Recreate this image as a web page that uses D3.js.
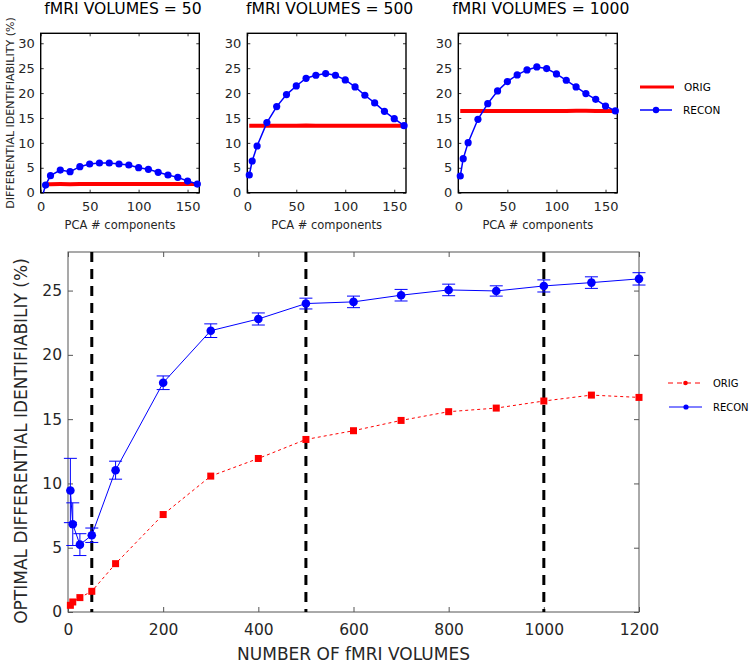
<!DOCTYPE html>
<html>
<head>
<meta charset="utf-8">
<script src="https://cdn.jsdelivr.net/npm/d3@7"></script>
<style>
  html, body { margin: 0; padding: 0; background: #fff; }
  svg { display: block; font-family: "DejaVu Sans", sans-serif; }
</style>
</head>
<body>
<svg id="chart" width="750" height="664"></svg>
<script>
// ---------- DATA ----------
const pcaComponents = [2, 5, 10, 20, 30, 40, 50, 60, 70, 80, 90, 100, 110, 120, 130, 140, 150, 160];
const panelTitles = ["fMRI VOLUMES = 50", "fMRI VOLUMES = 500", "fMRI VOLUMES = 1000"];
const recon50   = [-0.5, 1.54, 3.42, 4.55, 4.22, 5.22, 5.76, 5.96, 5.96, 5.76, 5.56, 5.02, 4.69, 4.09, 3.55, 3.08, 2.34, 1.74];
const orig50    = [null, 1.72, 1.72, 1.73, 1.72, 1.73, 1.74, 1.73, 1.74, 1.74, 1.73, 1.74, 1.74, 1.73, 1.74, 1.74, 1.74, 1.74];
const recon500  = [3.55, 6.36, 9.38, 14.07, 17.28, 19.69, 21.43, 22.97, 23.58, 23.91, 23.58, 22.64, 21.23, 19.56, 18.02, 16.34, 14.87, 13.46];
const orig500   = [13.45, 13.45, 13.45, 13.43, 13.42, 13.44, 13.46, 13.48, 13.45, 13.44, 13.45, 13.46, 13.45, 13.44, 13.45, 13.46, 13.46, 13.46];
const recon1000 = [3.35, 6.83, 10.05, 14.74, 17.88, 20.43, 22.3, 23.64, 24.65, 25.25, 24.92, 23.84, 22.57, 21.23, 19.89, 18.75, 17.41, 16.41];
const orig1000  = [16.38, 16.38, 16.39, 16.38, 16.38, 16.39, 16.40, 16.41, 16.40, 16.41, 16.42, 16.40, 16.42, 16.43, 16.43, 16.42, 16.41, 16.41];
const pcaXTicks = [0, 50, 100, 150];
const pcaYTicks = [0, 5, 10, 15, 20, 25, 30];

const volumes   = [5, 10, 25, 50, 100, 200, 300, 400, 500, 600, 700, 800, 900, 1000, 1100, 1200];
const reconOpt  = [9.45, 6.83, 5.24, 5.97, 11.03, 17.83, 21.88, 22.79, 23.99, 24.12, 24.64, 25.05, 24.97, 25.36, 25.62, 25.91];
const reconErr  = [2.5, 1.66, 0.85, 0.56, 0.7, 0.53, 0.53, 0.47, 0.42, 0.45, 0.45, 0.45, 0.4, 0.47, 0.45, 0.48];
const origOpt   = [0.52, 0.78, 1.12, 1.61, 3.76, 7.58, 10.57, 11.94, 13.42, 14.1, 14.9, 15.58, 15.86, 16.41, 16.87, 16.69];
const markedVolumes = [50, 500, 1000];
const volXTicks = [0, 200, 400, 600, 800, 1000, 1200];
const volYTicks = [0, 5, 10, 15, 20, 25];
const seriesNames = ["ORIG", "RECON"];

const svg = d3.select("#chart");
const RED = "#ff0000", BLUE = "#0000ff";

// ---------- TOP PANELS ----------
const panels = [
  { left: 40.7,  right: 199.3, recon: recon50,   orig: orig50 },
  { left: 247.3, right: 406.0, recon: recon500,  orig: orig500 },
  { left: 458.3, right: 617.3, recon: recon1000, orig: orig1000 }
];
const pTop = 33.3, pBottom = 192.7;
const py = d3.scaleLinear().domain([0, 32]).range([pBottom, pTop]);

panels.forEach((p, i) => {
  const px = d3.scaleLinear().domain([0, 162]).range([p.left, p.right]);
  const g = svg.append("g");
  const clipId = "clip" + i;
  svg.append("clipPath").attr("id", clipId).append("rect")
    .attr("x", p.left).attr("y", pTop).attr("width", p.right - p.left).attr("height", pBottom - pTop);

  const tickFmt = d3.format("d");
  const axB = g.append("g").attr("transform", `translate(0,${pBottom})`)
    .call(d3.axisBottom(px).tickValues(pcaXTicks).tickSize(-3).tickPadding(9.5).tickFormat(tickFmt));
  const axT = g.append("g").attr("transform", `translate(0,${pTop})`)
    .call(d3.axisTop(px).tickValues(pcaXTicks).tickSize(-3).tickFormat(""));
  const axL = g.append("g").attr("transform", `translate(${p.left},0)`)
    .call(d3.axisLeft(py).tickValues(pcaYTicks).tickSize(-3).tickPadding(6).tickFormat(tickFmt));
  const axR = g.append("g").attr("transform", `translate(${p.right},0)`)
    .call(d3.axisRight(py).tickValues(pcaYTicks).tickSize(-3).tickFormat(""));
  [axB, axT, axL, axR].forEach(a => {
    a.select(".domain").remove();
    a.selectAll(".tick line").attr("stroke", "#000").attr("stroke-width", 0.8);
    a.selectAll(".tick text").attr("fill", "#262626").style("font-size", "13px").style("font-family", "DejaVu Sans");
  });
  g.append("rect").attr("x", p.left).attr("y", pTop)
    .attr("width", p.right - p.left).attr("height", pBottom - pTop)
    .attr("fill", "none").attr("stroke", "#000").attr("stroke-width", 1.4);

  const data = pcaComponents.map((c, k) => ({ c, r: p.recon[k], o: p.orig[k] }));
  const plot = g.append("g").attr("clip-path", `url(#${clipId})`);
  plot.append("path").datum(data.filter(d => d.o !== null))
    .attr("d", d3.line().x(d => px(d.c)).y(d => py(d.o)))
    .attr("fill", "none").attr("stroke", RED).attr("stroke-width", 4);
  plot.append("path").datum(data)
    .attr("d", d3.line().x(d => px(d.c)).y(d => py(d.r)))
    .attr("fill", "none").attr("stroke", BLUE).attr("stroke-width", 1.5);
  g.append("g").selectAll("circle").data(data.filter(d => d.r >= 0)).join("circle")
    .attr("cx", d => px(d.c)).attr("cy", d => py(d.r)).attr("r", 3.6).attr("fill", BLUE);

  g.append("text").attr("x", (p.left + p.right) / 2 + 3).attr("y", 14)
    .attr("text-anchor", "middle").style("font-size", "15.6px").attr("fill", "#000")
    .text(panelTitles[i]);
  g.append("text").attr("x", (p.left + p.right) / 2).attr("y", 229)
    .attr("text-anchor", "middle").style("font-size", "11.5px").attr("fill", "#262626")
    .text("PCA # components");
});

svg.append("text").attr("transform", "translate(14,113) rotate(-90)")
  .attr("text-anchor", "middle").style("font-size", "11px").attr("fill", "#262626")
  .text("DIFFERENTIAL IDENTIFIABILITY (%)");

// top legend
const tl = svg.append("g");
tl.append("line").attr("x1", 640).attr("x2", 674).attr("y1", 87).attr("y2", 87)
  .attr("stroke", RED).attr("stroke-width", 3);
tl.append("text").attr("x", 684).attr("y", 91).style("font-size", "10.5px").attr("fill", "#000").text(seriesNames[0]);
tl.append("line").attr("x1", 640).attr("x2", 672).attr("y1", 110).attr("y2", 110)
  .attr("stroke", BLUE).attr("stroke-width", 1.5);
tl.append("circle").attr("cx", 656).attr("cy", 110).attr("r", 3.2).attr("fill", BLUE);
tl.append("text").attr("x", 683).attr("y", 114).style("font-size", "10.5px").attr("fill", "#000").text(seriesNames[1]);

// ---------- BOTTOM CHART ----------
const bL = 68, bR = 639, bT = 252, bB = 612;
const x = d3.scaleLinear().domain([0, 1200]).range([bL, bR]);
const y = d3.scaleLinear().domain([0, 28]).range([bB, bT]);
const bg = svg.append("g");
const AX = "#555";

const bAxB = bg.append("g").attr("transform", `translate(0,${bB})`)
  .call(d3.axisBottom(x).tickValues(volXTicks).tickSize(-5).tickPadding(12).tickFormat(d3.format("d")));
const bAxT = bg.append("g").attr("transform", `translate(0,${bT})`)
  .call(d3.axisTop(x).tickValues(volXTicks).tickSize(-5).tickFormat(""));
const bAxL = bg.append("g").attr("transform", `translate(${bL},0)`)
  .call(d3.axisLeft(y).tickValues(volYTicks).tickSize(-5).tickPadding(6).tickFormat(d3.format("d")));
const bAxR = bg.append("g").attr("transform", `translate(${bR},0)`)
  .call(d3.axisRight(y).tickValues(volYTicks).tickSize(-5).tickFormat(""));
[bAxB, bAxT, bAxL, bAxR].forEach(a => {
  a.select(".domain").remove();
  a.selectAll(".tick line").attr("stroke", AX).attr("stroke-width", 1);
  a.selectAll(".tick text").attr("fill", "#262626").style("font-size", "15.5px").style("font-family", "DejaVu Sans");
});
bg.append("rect").attr("x", bL).attr("y", bT).attr("width", bR - bL).attr("height", bB - bT)
  .attr("fill", "none").attr("stroke", AX).attr("stroke-width", 1);

// vertical dashed markers
bg.append("g").selectAll("line").data(markedVolumes).join("line")
  .attr("x1", d => x(d)).attr("x2", d => x(d)).attr("y1", bT).attr("y2", bB)
  .attr("stroke", "#000").attr("stroke-width", 3).attr("stroke-dasharray", "10,7");

const vdata = volumes.map((v, k) => ({ v, r: reconOpt[k], e: reconErr[k], o: origOpt[k] }));

// ORIG
bg.append("path").datum(vdata)
  .attr("d", d3.line().x(d => x(d.v)).y(d => y(d.o)))
  .attr("fill", "none").attr("stroke", RED).attr("stroke-width", 1).attr("stroke-dasharray", "3,3");
bg.append("g").selectAll("rect").data(vdata).join("rect")
  .attr("x", d => x(d.v) - 3.5).attr("y", d => y(d.o) - 3.5).attr("width", 7).attr("height", 7).attr("fill", RED);

// RECON
bg.append("path").datum(vdata)
  .attr("d", d3.line().x(d => x(d.v)).y(d => y(d.r)))
  .attr("fill", "none").attr("stroke", BLUE).attr("stroke-width", 1);
const eb = bg.append("g").attr("stroke", BLUE).attr("stroke-width", 1);
eb.selectAll("line.v").data(vdata).join("line").attr("class", "v")
  .attr("x1", d => x(d.v)).attr("x2", d => x(d.v)).attr("y1", d => y(d.r - d.e)).attr("y2", d => y(d.r + d.e));
eb.selectAll("line.t").data(vdata).join("line").attr("class", "t")
  .attr("x1", d => x(d.v) - 6.5).attr("x2", d => x(d.v) + 6.5).attr("y1", d => y(d.r + d.e)).attr("y2", d => y(d.r + d.e));
eb.selectAll("line.b").data(vdata).join("line").attr("class", "b")
  .attr("x1", d => x(d.v) - 6.5).attr("x2", d => x(d.v) + 6.5).attr("y1", d => y(d.r - d.e)).attr("y2", d => y(d.r - d.e));
bg.append("g").selectAll("circle").data(vdata).join("circle")
  .attr("cx", d => x(d.v)).attr("cy", d => y(d.r)).attr("r", 4.3).attr("fill", BLUE);

// axis labels
svg.append("text").attr("x", (bL + bR) / 2).attr("y", 660).attr("text-anchor", "middle")
  .style("font-size", "17px").attr("fill", "#262626").text("NUMBER OF fMRI VOLUMES");
svg.append("text").attr("transform", `translate(27,441) rotate(-90)`).attr("text-anchor", "middle")
  .style("font-size", "17px").attr("fill", "#262626").text("OPTIMAL DIFFERENTIAL IDENTIFIABILIY (%)");

// bottom legend
const bl = svg.append("g");
bl.append("line").attr("x1", 668).attr("x2", 703).attr("y1", 383).attr("y2", 383)
  .attr("stroke", RED).attr("stroke-width", 1).attr("stroke-dasharray", "5,4");
bl.append("circle").attr("cx", 685.5).attr("cy", 383).attr("r", 2.3).attr("fill", RED);
bl.append("text").attr("x", 713).attr("y", 387).style("font-size", "10px").attr("fill", "#000").text(seriesNames[0]);
bl.append("line").attr("x1", 669).attr("x2", 702).attr("y1", 407).attr("y2", 407)
  .attr("stroke", BLUE).attr("stroke-width", 1);
bl.append("circle").attr("cx", 686).attr("cy", 407).attr("r", 2.6).attr("fill", BLUE);
bl.append("text").attr("x", 713).attr("y", 411).style("font-size", "10px").attr("fill", "#000").text(seriesNames[1]);
</script>
</body>
</html>
